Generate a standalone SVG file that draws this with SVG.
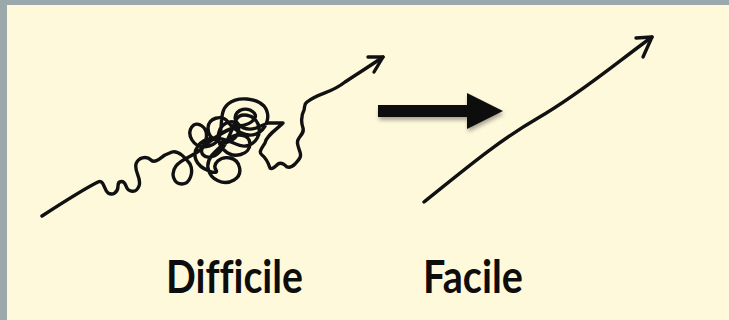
<svg xmlns="http://www.w3.org/2000/svg" width="729" height="320" viewBox="0 0 729 320">
<defs>
<style>
.bg{fill:#FFF9DC}
.frame{fill:#9CA9AC}
.ink{fill:none;stroke:#111;stroke-width:3.4;stroke-linecap:round;stroke-linejoin:round}
.label{font-family:Lato,"Open Sans","Liberation Sans",sans-serif;font-weight:700;font-size:45px;fill:#0d0d0d;font-variant-ligatures:none;font-feature-settings:"liga" 0}
</style>
<filter id="sh" x="-20%" y="-30%" width="140%" height="180%">
<feDropShadow dx="1" dy="3" stdDeviation="2" flood-color="#000" flood-opacity="0.35"/>
</filter>
</defs>
<rect class="frame" x="0" y="0" width="729" height="320"/>
<rect class="bg" x="7" y="5" width="722" height="315"/>
<g id="difficile">
<path class="ink" d="M42,216 C62,203 82,190 98,182 C104,179 104,190 108,193 C113,196 118,192 118,186 C118,180 124,180 126,186 C128,192 136,194 139,186 C142,178 134,172 136,164 C138,158 146,155 151,160 C155,164 160,158 165,155 L172,152 C178,150 186,158 190,164 C194,172 190,184 182,184 C174,184 170,174 176,166 C182,158 194,156 200,150 C206,144 210,132 202,126 C194,120 186,130 192,140 C198,150 212,148 218,140 C224,130 218,112 228,104 C238,96 256,98 264,106 C272,116 266,130 256,134 C246,138 234,130 228,122 C222,114 208,118 208,128 C208,140 222,146 232,140 C242,134 240,120 230,122 C218,124 214,140 224,150 C234,160 250,154 250,144 C250,134 236,132 228,140 C220,148 206,156 208,168 C210,180 224,186 234,180 C244,174 240,160 230,158 C220,156 212,164 216,170 C220,176 200,170 196,160 C192,150 200,140 212,138 C226,136 238,148 246,146 C256,144 262,134 258,124 C254,114 240,112 236,120 C232,128 226,150 214,156 C204,160 198,152 204,146 C212,140 226,128 240,126 C252,124 262,116 250,110 C240,106 230,116 238,124 C244,130 250,130 256,128 L268,123 L283,123 C276,130 266,136 265,143 C262,148 258,152 262,155 C266,158 268,162 270,168 C272,170 276,166 278,164 C281,162 284,164 287,167 C290,168 293,166 295,164 C298,160 302,158 300,152 C298,146 296,142 299,138 C302,134 304,132 303,128 C301,122 301,116 304,110 C305,106 304,104 307,102 C320,92 330,94 345,82 C360,72 370,66 383,57"/>
<path class="ink" d="M368,57 L383,57 L374,72"/>
<text class="label" x="166" y="293" textLength="137" lengthAdjust="spacingAndGlyphs">Difficile</text>
</g>
<g id="fleche" filter="url(#sh)">
<path fill="#0a0a0a" d="M378,105 L467,105 L467,93 L503,111 L467,129 L467,117 L378,117 Z"/>
</g>
<g id="facile">
<path class="ink" d="M424,202 C470,165 500,140 538,118 C580,94 620,60 652,37"/>
<path class="ink" d="M636,38 L652,37 L643,57"/>
<text class="label" x="423" y="293" textLength="100" lengthAdjust="spacingAndGlyphs">Facile</text>
</g>
</svg>
